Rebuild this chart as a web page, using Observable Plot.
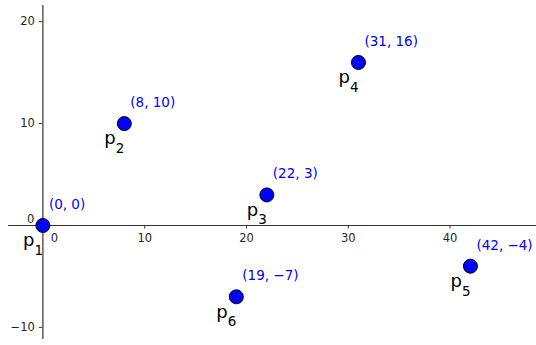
<!DOCTYPE html>
<html>
<head>
<meta charset="utf-8">
<script src="https://cdn.jsdelivr.net/npm/d3@7"></script>
<script src="https://cdn.jsdelivr.net/npm/@observablehq/plot@0.6"></script>
<style>
  html, body { margin: 0; padding: 0; background: #fff; }
  svg { display: block; }
</style>
</head>
<body>
<div id="chart"></div>
<script>
// Points p1..p6 and their coordinates
const ids = ["1", "2", "3", "4", "5", "6"];
const xs = [0, 8, 22, 31, 42, 19];
const ys = [0, 10, 3, 16, -4, -7];

// Axis ticks (the two zero labels are drawn separately)
const xTicks = [10, 20, 30, 40];
const yTicks = [-10, 10, 20];

const points = ids.map((id, i) => ({id, x: xs[i], y: ys[i]}));
const num = v => String(v).replace("-", "\u2212");

const font = "DejaVu Sans, Bitstream Vera Sans, sans-serif";
const axisColor = "#333";
const tickLen = 0.35; // in data units, roughly 3.5px

const chart = Plot.plot({
  width: 536,
  height: 345,
  marginLeft: 8,
  marginRight: 0,
  marginTop: 5,
  marginBottom: 6,
  style: {fontFamily: font, background: "#fff"},
  x: {domain: [-3.38, 48.49], axis: null},
  y: {domain: [-11.19, 21.59], axis: null},
  marks: [
    // axis lines crossing at the origin
    Plot.ruleY([0], {stroke: axisColor, strokeWidth: 1.2}),
    Plot.ruleX([0], {stroke: axisColor, strokeWidth: 1.2}),
    // tick marks
    Plot.ruleX(xTicks, {x: d => d, y1: 0, y2: -tickLen, stroke: axisColor}),
    Plot.ruleY(yTicks, {y: d => d, x1: 0, x2: -tickLen, stroke: axisColor}),
    // tick labels
    Plot.text(xTicks, {x: d => d, y: 0, text: d => num(d), dy: 12.5, fontSize: 11.5, fill: "#262626"}),
    Plot.text(yTicks, {x: 0, y: d => d, text: d => num(d), textAnchor: "end", dx: -8, fontSize: 11.5, fill: "#262626"}),
    Plot.text([0], {x: 0, y: 0, text: d => num(d), dx: 11.6, dy: 12.5, fontSize: 11.5, fill: "#262626"}),
    Plot.text([0], {x: 0, y: 0, text: d => num(d), textAnchor: "end", dx: -8.5, dy: -6.5, fontSize: 11.5, fill: "#262626"}),
    // points
    Plot.dot(points, {x: "x", y: "y", r: 7, fill: "#0000ff", stroke: "#000", strokeWidth: 1}),
    // coordinate labels
    Plot.text(points, {x: "x", y: "y", text: d => `(${num(d.x)}, ${num(d.y)})`, textAnchor: "start", dx: 6, dy: -21, fontSize: 13.5, fill: "#0000ff"}),
    // point names with subscripts
    Plot.text(points, {x: "x", y: "y", text: () => "p", textAnchor: "start", dx: -20, dy: 15, fontSize: 18, fill: "#000"}),
    Plot.text(points, {x: "x", y: "y", text: "id", textAnchor: "start", dx: -8.5, dy: 25, fontSize: 13.5, fill: "#000"})
  ]
});

document.getElementById("chart").append(chart);
</script>
</body>
</html>
